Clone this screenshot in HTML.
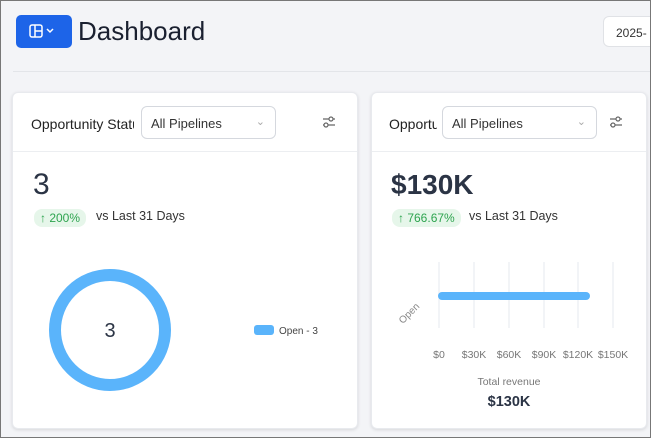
<!DOCTYPE html>
<html><head><style>
*{margin:0;padding:0;box-sizing:border-box}
body{width:651px;height:438px;overflow:hidden;background:#f3f4f7;font-family:"Liberation Sans",sans-serif;position:relative}
.frame{position:absolute;left:0;top:0;width:651px;height:438px;border:1px solid #777;pointer-events:none;z-index:9}
.a{position:absolute}
.card{position:absolute;background:#fff;border-radius:6px;box-shadow:0 1px 3px rgba(0,0,0,.12);border:1px solid #e8eaee;overflow:hidden}
.sel{position:absolute;border:1px solid #d5d8de;border-radius:6px;background:#fff;font-size:13px;color:#333;padding:9px 0 0 9px}
.chev{position:absolute;right:10px;top:8px;color:#aaa;font-size:11px}
.pill{position:absolute;background:#e6f6ea;color:#2ea44f;border-radius:8px;font-size:12px;padding:2px 6px}
</style></head><body>
<div class="frame"></div>
<div class="a" style="left:16px;top:15px;width:56px;height:33px;background:#1d64e8;border-radius:5px"></div>
<svg class="a" style="left:29px;top:24px" width="30" height="16"><rect x="1" y="1" width="12" height="12" rx="2" fill="none" stroke="#fff" stroke-width="1.5"/><line x1="6" y1="1" x2="6" y2="13" stroke="#fff" stroke-width="1.5"/><line x1="6" y1="7" x2="13" y2="7" stroke="#fff" stroke-width="1.5"/><polyline points="18,5 21,8 24,5" fill="none" stroke="#fff" stroke-width="1.5"/></svg>
<div class="a" style="left:78px;top:16px;font-size:26px;color:#1a2030">Dashboard</div>
<div class="a" style="left:603px;top:16px;width:60px;height:31px;background:#fff;border:1px solid #e0e2e6;border-radius:6px;font-size:12px;color:#333;padding:9px 0 0 12px">2025-</div>
<div class="a" style="left:13px;top:71px;width:640px;height:1px;background:#e3e5e9"></div>

<div class="card" style="left:12px;top:92px;width:346px;height:337px">
<div class="a" style="left:18px;top:23px;font-size:14px;color:#222;width:103px;overflow:hidden;white-space:nowrap">Opportunity Status</div>
<div class="sel" style="left:128px;top:13px;width:135px;height:33px">All Pipelines<span class="chev">&#8964;</span></div>
<svg class="a" style="left:309px;top:23px" width="14" height="12"><g stroke="#666" stroke-width="1.2" fill="none"><line x1="1" y1="3" x2="13" y2="3"/><line x1="1" y1="9" x2="13" y2="9"/><circle cx="9" cy="3" r="2" fill="#fff"/><circle cx="4" cy="9" r="2" fill="#fff"/></g></svg>
<div class="a" style="left:0;top:58px;width:346px;height:1px;background:#eceef1"></div>
<div class="a" style="left:20px;top:75px;font-size:30px;color:#2b3445">3</div>
<div class="pill" style="left:21px;top:116px">&#8593; 200%</div>
<div class="a" style="left:83px;top:116px;font-size:12.5px;color:#333">vs Last 31 Days</div>
<svg class="a" style="left:0;top:0" width="346" height="337"><circle cx="97" cy="237" r="55" fill="none" stroke="#5ab4fb" stroke-width="12"/><text x="97" y="244" font-size="20" fill="#2b3445" text-anchor="middle" font-family="Liberation Sans">3</text><rect x="241" y="232" width="20" height="10" rx="3" fill="#5ab4fb"/><text x="266" y="241" font-size="10" fill="#444" font-family="Liberation Sans">Open - 3</text></svg>
</div>

<div class="card" style="left:371px;top:92px;width:276px;height:337px">
<div class="a" style="left:17px;top:23px;font-size:14px;color:#222;width:48px;overflow:hidden;white-space:nowrap">Opportunity</div>
<div class="sel" style="left:70px;top:13px;width:155px;height:33px">All Pipelines<span class="chev">&#8964;</span></div>
<svg class="a" style="left:237px;top:23px" width="14" height="12"><g stroke="#666" stroke-width="1.2" fill="none"><line x1="1" y1="3" x2="13" y2="3"/><line x1="1" y1="9" x2="13" y2="9"/><circle cx="9" cy="3" r="2" fill="#fff"/><circle cx="4" cy="9" r="2" fill="#fff"/></g></svg>
<div class="a" style="left:0;top:58px;width:276px;height:1px;background:#eceef1"></div>
<div class="a" style="left:19px;top:76px;font-size:28px;color:#2b3445;font-weight:bold">$130K</div>
<div class="pill" style="left:20px;top:116px">&#8593; 766.67%</div>
<div class="a" style="left:97px;top:116px;font-size:12.5px;color:#333">vs Last 31 Days</div>
<svg class="a" style="left:0;top:0" width="276" height="337" font-family="Liberation Sans">
<g stroke="#eef0f4" stroke-width="1.5"><line x1="67" y1="169" x2="67" y2="235"/><line x1="102" y1="169" x2="102" y2="235"/><line x1="137" y1="169" x2="137" y2="235"/><line x1="172" y1="169" x2="172" y2="235"/><line x1="206" y1="169" x2="206" y2="235"/><line x1="241" y1="169" x2="241" y2="235"/></g>
<rect x="66" y="199" width="152" height="8" rx="4" fill="#5ab4fb"/>
<text x="48" y="214" font-size="10" fill="#888" text-anchor="end" transform="rotate(-45 48 214)">Open</text>
<g font-size="10.5" fill="#777" text-anchor="middle"><text x="67" y="265">$0</text><text x="102" y="265">$30K</text><text x="137" y="265">$60K</text><text x="172" y="265">$90K</text><text x="206" y="265">$120K</text><text x="241" y="265">$150K</text></g>
<text x="137" y="292" font-size="10.5" fill="#777" text-anchor="middle">Total revenue</text>
<text x="137" y="313" font-size="14.5" fill="#2b3445" font-weight="bold" text-anchor="middle">$130K</text>
</svg>
</div>
</body></html>
